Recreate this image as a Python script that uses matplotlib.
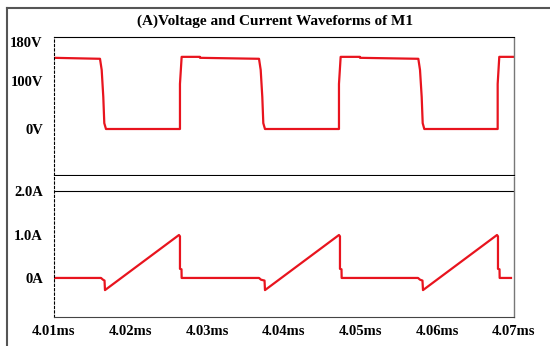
import numpy as np
import matplotlib.pyplot as plt
from matplotlib.lines import Line2D

plt.rcParams['font.family'] = ['Liberation Serif', 'DejaVu Serif']

# voltage waveform (time in ms, volts)
v_t = [4.0100, 4.01600, 4.01622, 4.01643, 4.01656, 4.01678,
       4.02643, 4.02643, 4.02665, 4.02904, 4.02904,
       4.03674, 4.03696, 4.03717, 4.03730, 4.03752,
       4.04717, 4.04717, 4.04739, 4.04991, 4.04991,
       4.05752, 4.05774, 4.05796, 4.05809, 4.05830,
       4.06787, 4.06787, 4.06808, 4.0700]
v_val = [147, 145, 122, 66, 12, 0,
         0, 93, 149, 149, 147,
         145, 122, 66, 12, 0,
         0, 93, 149, 149, 147,
         145, 122, 66, 12, 0,
         0, 93, 149, 149]

# current waveform (time in ms, amps)
i_t = [4.0100, 4.01613, 4.01639, 4.01659, 4.01665,
       4.02630, 4.02643, 4.02643, 4.02663, 4.02665,
       4.03674, 4.03700, 4.03746, 4.03752,
       4.04717, 4.04730, 4.04730, 4.04750, 4.04752,
       4.05748, 4.05774, 4.05806, 4.05813,
       4.06778, 4.06791, 4.06791, 4.06811, 4.06813, 4.06961]
i_val = [0, 0, -0.04, -0.06, -0.28,
         0.99, 0.96, 0.21, 0.20, 0,
         0, -0.04, -0.06, -0.28,
         0.99, 0.96, 0.21, 0.20, 0,
         0, -0.04, -0.06, -0.28,
         0.99, 0.96, 0.21, 0.20, 0, 0]

x_ticks = [4.01, 4.02, 4.03, 4.04, 4.05, 4.06, 4.07]
x_labels = ["4.01ms", "4.02ms", "4.03ms", "4.04ms", "4.05ms", "4.06ms", "4.07ms"]
v_ticks = [0, 100, 180]
v_labels = ["0V", "100V", "180V"]
i_ticks = [0, 1.0, 2.0]
i_labels = ["0A", "1.0A", "2.0A"]

W, H = 550, 346
fig = plt.figure(figsize=(5.5, 3.46), dpi=100)

red = "#e8141e"
fs = 10.5


def frame(ax):
    ax.spines["left"].set_linestyle((0, (2, 2)))
    ax.spines["left"].set_linewidth(0.8)
    ax.spines["right"].set_linestyle((0, (1, 1)))
    ax.spines["right"].set_color("#777777")
    ax.spines["right"].set_linewidth(1.0)
    ax.tick_params(length=0, pad=8, labelsize=fs)
    for lab in ax.get_xticklabels() + ax.get_yticklabels():
        lab.set_fontweight("bold")


# top axes: voltage
ax1 = fig.add_axes([54 / W, 1 - 175 / H, 460 / W, 138 / H])
ax1.plot(v_t, v_val, color=red, lw=1.6)
ax1.set_xlim(4.01, 4.07)
ax1.set_ylim(-95, 190)
ax1.set_yticks(v_ticks)
ax1.set_yticklabels(v_labels)
ax1.set_xticks([])
frame(ax1)

# bottom axes: current
ax2 = fig.add_axes([54 / W, 1 - 317 / H, 460 / W, 141 / H])
ax2.plot(i_t, i_val, color=red, lw=1.6)
ax2.set_xlim(4.01, 4.07)
ax2.set_ylim(-0.9, 2.35)
ax2.axhline(2.0, color="black", lw=0.8)
ax2.set_yticks(i_ticks)
ax2.set_yticklabels(i_labels)
ax2.set_xticks(x_ticks)
ax2.set_xticklabels(x_labels)
ax2.spines["top"].set_visible(False)
ax2.spines["bottom"].set_color("#444444")
frame(ax2)
ax2.tick_params(axis="x", pad=6)

fig.text(275 / W, 1 - 21 / H, "(A)Voltage and Current Waveforms of M1",
         ha="center", va="center", fontsize=11, fontweight="bold")

# outer frame
fig.add_artist(Line2D([7 / W, 1], [1 - 8 / H, 1 - 8 / H], color="#555555", lw=1.5))
fig.add_artist(Line2D([7 / W, 7 / W], [0, 1 - 8 / H], color="#555555", lw=1.5))

fig.savefig("out.png", dpi=100)
